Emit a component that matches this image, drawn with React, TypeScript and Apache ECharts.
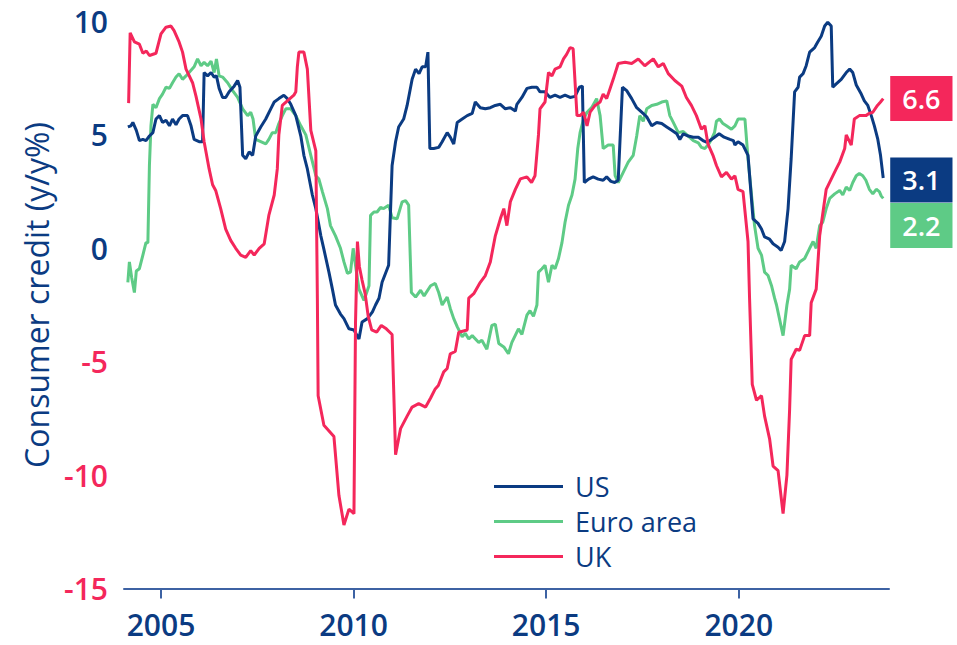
import React, { useEffect, useRef } from "react";
import * as echarts from "echarts";

const NAVY = "#0b3b82";
const RED = "#f4275b";
const GREEN = "#5ecb86";
const AXIS = "#3d62a3";
const FONT = "'Open Sans', sans-serif";

const xTicks = [2005, 2010, 2015, 2020];
const yTicks = [-15, -10, -5, 0, 5, 10];
const seriesNames = ["US", "Euro area", "UK"];

// [year, y/y %]
const usData: [number, number][] = [
  [2004.14, 5.35], [2004.22, 5.4], [2004.27, 5.55], [2004.36, 5.2], [2004.44, 4.75], [2004.53, 4.8],
  [2004.61, 4.75], [2004.7, 4.95], [2004.79, 5.1], [2004.87, 5.7], [2004.96, 5.85], [2005.04, 5.55],
  [2005.13, 5.65], [2005.22, 5.4], [2005.3, 5.7], [2005.39, 5.45], [2005.47, 5.7], [2005.56, 5.85],
  [2005.69, 5.85], [2005.78, 5.4], [2005.86, 4.8], [2005.99, 4.7], [2006.08, 4.7], [2006.12, 7.75],
  [2006.21, 7.6], [2006.3, 7.75], [2006.38, 7.55], [2006.44, 7.6], [2006.51, 7.05], [2006.6, 6.65],
  [2006.68, 6.65], [2006.77, 6.9], [2006.9, 7.15], [2006.99, 7.4], [2007.05, 7.1], [2007.12, 4.1],
  [2007.2, 3.95], [2007.29, 4.25], [2007.38, 4.1], [2007.46, 4.95], [2007.59, 5.35], [2007.72, 5.7],
  [2007.85, 6.15], [2007.94, 6.45], [2008.06, 6.6], [2008.19, 6.75], [2008.28, 6.6], [2008.37, 6.35],
  [2008.5, 5.85], [2008.63, 4.95], [2008.71, 4.1], [2008.8, 3.5], [2008.93, 2.35], [2009.02, 1.75],
  [2009.15, 0.55], [2009.23, -0.05], [2009.36, -1.05], [2009.45, -1.8], [2009.53, -2.5], [2009.66, -2.9],
  [2009.75, -3.1], [2009.88, -3.55], [2010.01, -3.6], [2010.14, -4.0], [2010.22, -3.25], [2010.36, -3.1],
  [2010.49, -2.8], [2010.57, -2.5], [2010.66, -2.2], [2010.74, -1.5], [2010.91, -0.75], [2011.0, 3.65],
  [2011.09, 4.7], [2011.17, 5.35], [2011.3, 5.7], [2011.39, 6.3], [2011.52, 7.45], [2011.61, 7.9],
  [2011.7, 7.7], [2011.78, 8.0], [2011.87, 8.0], [2011.93, 8.65], [2011.98, 4.4], [2012.08, 4.4],
  [2012.21, 4.45], [2012.3, 4.7], [2012.43, 5.1], [2012.51, 4.9], [2012.6, 4.6], [2012.69, 5.55],
  [2012.82, 5.7], [2012.95, 5.85], [2013.08, 5.95], [2013.16, 6.45], [2013.29, 6.2], [2013.42, 6.15],
  [2013.55, 6.2], [2013.68, 6.3], [2013.81, 6.35], [2013.94, 6.15], [2014.07, 6.2], [2014.2, 6.05],
  [2014.24, 6.35], [2014.37, 6.65], [2014.5, 7.05], [2014.63, 7.1], [2014.76, 7.1], [2014.84, 6.9],
  [2014.97, 6.9], [2015.1, 6.65], [2015.23, 6.75], [2015.36, 6.65], [2015.49, 6.75], [2015.62, 6.65],
  [2015.75, 6.7], [2015.86, 7.1], [2015.94, 7.15], [2015.99, 2.9], [2016.1, 3.05], [2016.22, 3.15],
  [2016.35, 3.05], [2016.48, 3.0], [2016.57, 3.15], [2016.68, 2.95], [2016.78, 2.9], [2016.87, 3.0],
  [2016.98, 7.1], [2017.09, 6.95], [2017.22, 6.6], [2017.35, 6.2], [2017.48, 6.0], [2017.61, 5.8],
  [2017.74, 5.4], [2017.87, 5.55], [2018.0, 5.5], [2018.13, 5.35], [2018.26, 5.2], [2018.39, 5.05],
  [2018.47, 4.8], [2018.56, 5.05], [2018.69, 4.95], [2018.82, 4.9], [2018.95, 4.9], [2019.07, 4.75],
  [2019.16, 4.68], [2019.25, 4.75], [2019.37, 4.9], [2019.49, 5.05], [2019.62, 4.9], [2019.77, 4.8],
  [2019.86, 4.75], [2019.9, 4.55], [2019.98, 4.7], [2020.11, 4.55], [2020.24, 4.1], [2020.37, 1.3],
  [2020.5, 1.1], [2020.59, 0.85], [2020.67, 0.5], [2020.8, 0.4], [2020.89, 0.2], [2021.02, 0.05],
  [2021.1, -0.1], [2021.19, 0.3], [2021.28, 1.75], [2021.36, 3.95], [2021.45, 6.9], [2021.54, 7.1],
  [2021.58, 7.55], [2021.67, 7.7], [2021.75, 8.05], [2021.84, 8.65], [2021.97, 8.85], [2022.05, 9.1],
  [2022.14, 9.35], [2022.23, 9.8], [2022.31, 9.97], [2022.4, 9.8], [2022.44, 7.1], [2022.53, 7.25],
  [2022.66, 7.45], [2022.79, 7.75], [2022.88, 7.9], [2022.96, 7.75], [2023.05, 7.2], [2023.18, 6.8],
  [2023.26, 6.5], [2023.35, 6.3], [2023.44, 5.85], [2023.52, 5.4], [2023.61, 4.8], [2023.68, 4.1],
  [2023.75, 3.1],
];

const euroData: [number, number][] = [
  [2004.14, -1.5], [2004.18, -0.6], [2004.24, -1.3], [2004.31, -1.95], [2004.36, -1.0], [2004.44, -0.9],
  [2004.53, -0.3], [2004.61, 0.25], [2004.66, 0.25], [2004.7, 3.65], [2004.74, 5.4], [2004.79, 6.35],
  [2004.87, 6.2], [2004.96, 6.6], [2005.04, 6.8], [2005.13, 7.1], [2005.22, 7.05], [2005.3, 7.3],
  [2005.39, 7.55], [2005.47, 7.7], [2005.56, 7.45], [2005.65, 7.6], [2005.73, 7.75], [2005.86, 8.0],
  [2005.95, 8.35], [2006.04, 8.05], [2006.12, 8.2], [2006.21, 8.05], [2006.3, 8.25], [2006.38, 7.75],
  [2006.44, 8.35], [2006.51, 7.6], [2006.6, 7.55], [2006.73, 7.3], [2006.86, 6.95], [2006.99, 6.65],
  [2007.12, 6.15], [2007.25, 5.85], [2007.33, 6.0], [2007.39, 5.7], [2007.46, 4.8], [2007.59, 4.7],
  [2007.72, 4.6], [2007.8, 4.8], [2007.89, 5.1], [2007.98, 5.1], [2008.06, 5.5], [2008.15, 5.85],
  [2008.24, 6.15], [2008.37, 6.15], [2008.5, 5.85], [2008.63, 5.4], [2008.76, 5.0], [2008.89, 4.1],
  [2009.02, 3.2], [2009.1, 3.05], [2009.19, 2.5], [2009.32, 1.75], [2009.4, 1.0], [2009.53, 0.55],
  [2009.66, 0.0], [2009.75, -0.6], [2009.84, -1.1], [2009.92, -1.05], [2009.99, 0.0], [2010.05, -0.75],
  [2010.14, -1.8], [2010.27, -2.3], [2010.4, -1.65], [2010.44, 1.45], [2010.53, 1.6], [2010.61, 1.6],
  [2010.7, 1.8], [2010.78, 1.75], [2010.91, 1.9], [2011.0, 1.35], [2011.13, 1.3], [2011.26, 2.05],
  [2011.35, 2.1], [2011.43, 1.9], [2011.5, -1.95], [2011.61, -2.15], [2011.74, -1.85], [2011.83, -2.1],
  [2012.0, -1.65], [2012.12, -1.55], [2012.21, -1.95], [2012.3, -2.5], [2012.43, -2.15], [2012.51, -2.65],
  [2012.6, -3.1], [2012.69, -3.45], [2012.82, -3.9], [2012.9, -3.75], [2012.99, -4.0], [2013.08, -3.85],
  [2013.25, -4.15], [2013.33, -4.05], [2013.46, -4.45], [2013.59, -3.4], [2013.68, -3.35], [2013.77, -4.2],
  [2013.9, -4.35], [2014.02, -4.65], [2014.11, -4.15], [2014.28, -3.55], [2014.37, -3.8], [2014.5, -2.95],
  [2014.58, -2.75], [2014.67, -3.0], [2014.76, -2.5], [2014.8, -1.05], [2014.89, -0.9], [2014.97, -0.75],
  [2015.06, -1.5], [2015.15, -0.75], [2015.23, -0.9], [2015.32, -0.45], [2015.41, 0.25], [2015.49, 1.15],
  [2015.58, 1.9], [2015.67, 2.35], [2015.75, 3.05], [2015.82, 4.4], [2015.88, 5.1], [2015.97, 5.7],
  [2016.06, 6.0], [2016.18, 6.2], [2016.31, 6.6], [2016.4, 5.85], [2016.48, 4.4], [2016.61, 4.55],
  [2016.74, 4.55], [2016.79, 3.2], [2016.87, 2.9], [2017.0, 3.35], [2017.13, 3.8], [2017.26, 4.1],
  [2017.35, 4.95], [2017.43, 5.85], [2017.52, 5.6], [2017.61, 6.15], [2017.74, 6.3], [2017.87, 6.35],
  [2018.0, 6.45], [2018.13, 6.5], [2018.21, 5.85], [2018.3, 5.55], [2018.43, 5.1], [2018.56, 5.15],
  [2018.69, 4.95], [2018.82, 4.75], [2018.95, 4.65], [2019.03, 4.45], [2019.12, 4.4], [2019.2, 4.55],
  [2019.29, 4.8], [2019.37, 5.1], [2019.42, 5.6], [2019.5, 5.7], [2019.59, 5.5], [2019.68, 5.4],
  [2019.81, 5.25], [2019.9, 5.4], [2019.98, 5.7], [2020.07, 5.7], [2020.16, 5.7], [2020.24, 3.95],
  [2020.33, 2.35], [2020.41, 1.0], [2020.5, 0.0], [2020.59, -0.3], [2020.67, -1.05], [2020.76, -1.2],
  [2020.85, -1.65], [2020.93, -2.2], [2020.98, -2.5], [2021.15, -3.85], [2021.25, -2.5], [2021.32, -1.8],
  [2021.36, -0.75], [2021.49, -0.9], [2021.58, -0.6], [2021.71, -0.45], [2021.84, 0.0], [2021.93, 0.3],
  [2022.01, 0.0], [2022.1, 1.0], [2022.18, 1.15], [2022.27, 1.75], [2022.36, 2.2], [2022.49, 2.4],
  [2022.62, 2.55], [2022.7, 2.35], [2022.79, 2.7], [2022.88, 2.55], [2022.96, 2.9], [2023.05, 3.2],
  [2023.13, 3.3], [2023.22, 3.2], [2023.3, 3.0], [2023.39, 2.6], [2023.48, 2.4], [2023.57, 2.6],
  [2023.65, 2.5], [2023.7, 2.3], [2023.75, 2.2],
];

const ukData: [number, number][] = [
  [2004.16, 6.4], [2004.2, 9.5], [2004.31, 9.1], [2004.44, 9.0], [2004.53, 8.6], [2004.62, 8.7],
  [2004.7, 8.5], [2004.87, 8.6], [2005.0, 9.45], [2005.13, 9.75], [2005.26, 9.8], [2005.34, 9.6],
  [2005.47, 9.1], [2005.56, 8.65], [2005.65, 7.9], [2005.82, 7.3], [2005.91, 6.7], [2006.04, 5.7],
  [2006.12, 4.7], [2006.25, 3.5], [2006.34, 2.8], [2006.42, 2.55], [2006.55, 1.75], [2006.68, 0.85],
  [2006.81, 0.35], [2006.94, 0.0], [2007.07, -0.3], [2007.2, -0.4], [2007.33, -0.1], [2007.42, -0.3],
  [2007.55, 0.0], [2007.68, 0.2], [2007.8, 1.45], [2007.94, 2.35], [2008.02, 3.5], [2008.06, 5.0],
  [2008.15, 6.3], [2008.28, 6.5], [2008.45, 6.75], [2008.5, 6.9], [2008.54, 8.0], [2008.58, 8.65],
  [2008.71, 8.65], [2008.8, 7.9], [2008.89, 5.2], [2009.02, 4.3], [2009.06, -2.2], [2009.08, -6.5],
  [2009.23, -7.8], [2009.49, -8.3], [2009.62, -10.9], [2009.75, -12.2], [2009.88, -11.5], [2010.01, -11.7],
  [2010.05, -3.3], [2010.1, 0.3], [2010.15, -0.8], [2010.22, -1.4], [2010.3, -2.0], [2010.38, -3.0],
  [2010.47, -3.6], [2010.6, -3.7], [2010.72, -3.4], [2010.85, -3.55], [2011.0, -3.8], [2011.09, -9.1],
  [2011.22, -7.95], [2011.39, -7.4], [2011.52, -7.0], [2011.69, -6.85], [2011.87, -7.0], [2012.0, -6.6],
  [2012.12, -6.2], [2012.2, -6.05], [2012.34, -5.45], [2012.43, -5.3], [2012.51, -4.65], [2012.64, -4.55],
  [2012.73, -3.7], [2012.95, -3.6], [2012.99, -2.2], [2013.12, -2.0], [2013.29, -1.5], [2013.42, -1.2],
  [2013.55, -0.6], [2013.68, 0.55], [2013.81, 1.3], [2013.9, 1.75], [2013.98, 1.0], [2014.07, 2.05],
  [2014.2, 2.6], [2014.33, 3.06], [2014.5, 3.15], [2014.62, 2.9], [2014.71, 3.2], [2014.8, 5.0],
  [2014.84, 6.15], [2014.97, 6.45], [2015.06, 7.75], [2015.15, 7.6], [2015.23, 7.9], [2015.36, 8.0],
  [2015.45, 8.35], [2015.53, 8.55], [2015.62, 8.85], [2015.7, 8.8], [2015.8, 5.85], [2015.88, 5.85],
  [2015.97, 6.0], [2016.06, 5.4], [2016.14, 6.0], [2016.27, 6.3], [2016.4, 6.45], [2016.48, 6.8],
  [2016.57, 6.6], [2016.66, 7.05], [2016.74, 7.45], [2016.87, 8.15], [2017.05, 8.2], [2017.22, 8.15],
  [2017.39, 8.35], [2017.56, 8.05], [2017.78, 8.35], [2017.91, 8.0], [2018.04, 8.15], [2018.17, 7.7],
  [2018.34, 7.4], [2018.52, 7.15], [2018.64, 6.65], [2018.77, 6.3], [2018.9, 5.85], [2019.03, 5.25],
  [2019.12, 5.4], [2019.2, 4.6], [2019.33, 4.1], [2019.42, 3.65], [2019.55, 3.15], [2019.68, 3.35],
  [2019.81, 3.05], [2019.9, 3.2], [2019.98, 2.6], [2020.11, 2.5], [2020.24, 0.3], [2020.28, -2.2],
  [2020.35, -6.0], [2020.46, -6.7], [2020.59, -6.5], [2020.67, -7.4], [2020.8, -8.4], [2020.89, -9.6],
  [2021.02, -9.8], [2021.15, -11.7], [2021.25, -10.0], [2021.32, -7.1], [2021.36, -4.9], [2021.49, -4.45],
  [2021.58, -4.5], [2021.71, -3.85], [2021.84, -3.85], [2021.88, -2.4], [2022.01, -1.8], [2022.1, 0.55],
  [2022.27, 2.6], [2022.4, 3.05], [2022.53, 3.5], [2022.62, 3.8], [2022.75, 4.4], [2022.79, 5.0],
  [2022.92, 4.55], [2023.0, 5.7], [2023.13, 5.85], [2023.3, 5.85], [2023.39, 5.95], [2023.48, 6.0],
  [2023.6, 6.3], [2023.68, 6.45], [2023.75, 6.6],
];

function endLabel(color: string, dy: number) {
  return {
    show: true,
    distance: 7,
    offset: [0, dy],
    formatter: (p: any) => Number(p.value[1]).toFixed(1),
    color: "#ffffff",
    backgroundColor: color,
    fontFamily: FONT,
    fontSize: 27,
    fontWeight: 600,
    lineHeight: 29,
    padding: [8, 12, 8, 12],
    align: "left",
    verticalAlign: "middle",
  };
}

export default function App() {
  const ref = useRef<HTMLDivElement>(null);
  useEffect(() => {
    if (!ref.current) return;
    const chart = echarts.init(ref.current, null, { renderer: "svg" });
    const lineSeries = (name: string, data: [number, number][], color: string, dy: number, z: number) => ({
      name,
      type: "line",
      data,
      showSymbol: false,
      symbol: "none",
      z,
      lineStyle: { color, width: 3 },
      itemStyle: { color },
      endLabel: endLabel(color, dy),
    });
    chart.setOption({
      animation: false,
      backgroundColor: "#ffffff",
      grid: { left: 124, right: 68, top: 21.5, bottom: 56.5, containLabel: false },
      legend: {
        data: seriesNames,
        orient: "vertical",
        left: 489,
        top: 468,
        icon: "rect",
        itemWidth: 69,
        itemHeight: 3,
        itemGap: 8,
        textStyle: {
          color: NAVY,
          fontFamily: FONT,
          fontSize: 27,
          fontWeight: 500,
          lineHeight: 27,
          padding: [0, 0, 0, 7],
        },
      },
      xAxis: {
        type: "value",
        min: 2004.04,
        max: 2023.9,
        splitLine: { show: false },
        axisLine: { show: true, onZero: false, lineStyle: { color: AXIS, width: 2 } },
        axisTick: { show: true, length: 10, customValues: xTicks, lineStyle: { color: AXIS, width: 2 } },
        axisLabel: {
          customValues: xTicks,
          color: NAVY,
          fontFamily: FONT,
          fontSize: 30,
          lineHeight: 30,
          fontWeight: 600,
          margin: 21,
          formatter: (v: number) => String(v),
        },
      },
      yAxis: {
        type: "value",
        min: yTicks[0],
        max: yTicks[yTicks.length - 1],
        interval: 5,
        splitLine: { show: false },
        axisLine: { show: false },
        axisTick: { show: false },
        axisLabel: {
          fontFamily: FONT,
          fontSize: 30,
          fontWeight: 600,
          margin: 16,
          color: (v: any) => (Number(v) < 0 ? RED : NAVY),
        },
      },
      graphic: [
        {
          type: "text",
          x: 36,
          y: 295,
          rotation: Math.PI / 2,
          style: {
            text: "Consumer credit (y/y%)",
            fill: NAVY,
            font: `500 32px ${FONT}`,
            align: "center",
            verticalAlign: "middle",
          },
        },
      ],
      series: [
        lineSeries("Euro area", euroData, GREEN, 27, 2),
        lineSeries("US", usData, NAVY, 2, 3),
        lineSeries("UK", ukData, RED, 0, 4),
      ],
    });
    return () => chart.dispose();
  }, []);
  return (
    <div
      ref={ref}
      style={{ position: "absolute", left: 0, top: 0, width: 957, height: 645 }}
    />
  );
}
